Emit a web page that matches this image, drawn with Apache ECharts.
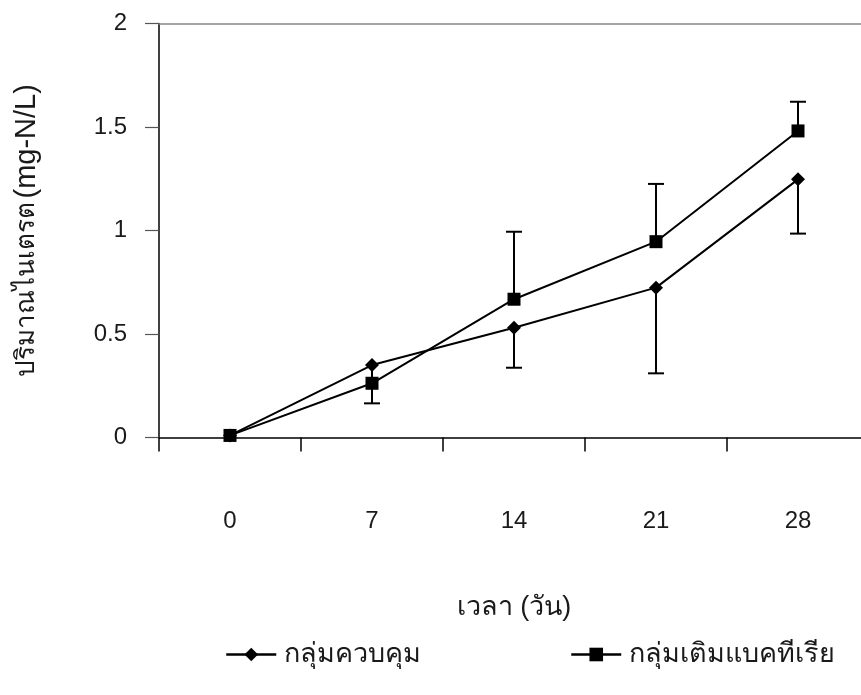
<!DOCTYPE html>
<html>
<head>
<meta charset="utf-8">
<script src="https://cdn.jsdelivr.net/npm/echarts@6/dist/echarts.min.js"></script>
<style>
  html, body { margin: 0; padding: 0; background: #fff; }
  #chart { width: 861px; height: 695px; }
</style>
</head>
<body>
<div id="chart"></div>
<script>
// Sampling days
const days = ['0', '7', '14', '21', '28'];
// Nitrate concentration (mg-N/L)
const controlGroup = [0.01, 0.35, 0.53, 0.724, 1.247];
const bacteriaGroup = [0.01, 0.262, 0.668, 0.946, 1.481];
// Error bar ends: control drawn downward, bacteria drawn upward
const controlLow = [null, 0.165, 0.337, 0.31, 0.985];
const bacteriaHigh = [null, null, 0.994, 1.225, 1.622];
const yTicks = [0, 0.5, 1, 1.5, 2];

const seriesNames = ['กลุ่มควบคุม', 'กลุ่มเติมแบคทีเรีย'];
const FONT = '"Liberation Sans", Arial, sans-serif';
const TEXT = '#1a1a1a';

function errorData(values, ends) {
  const out = [];
  values.forEach((v, i) => {
    if (ends[i] != null) out.push([i, v, ends[i]]);
  });
  return out;
}

function renderErrorBar(params, api) {
  const x = api.value(0);
  const a = api.coord([x, api.value(1)]);
  const b = api.coord([x, api.value(2)]);
  const half = 8;
  const style = { stroke: '#000', lineWidth: 2 };
  return {
    type: 'group',
    children: [
      { type: 'line', shape: { x1: a[0], y1: a[1], x2: b[0], y2: b[1] }, style },
      { type: 'line', shape: { x1: b[0] - half, y1: b[1], x2: b[0] + half, y2: b[1] }, style }
    ]
  };
}

function legendAt(left, name) {
  return {
    left: left,
    top: 641,
    padding: 0,
    itemWidth: 50,
    itemHeight: 17,
    lineStyle: { width: 2.5 },
    textStyle: { color: TEXT, fontSize: 27, fontFamily: FONT, padding: [0, 0, 0, 3] },
    data: [name]
  };
}

const chart = echarts.init(document.getElementById('chart'), null, { renderer: 'canvas' });
chart.setOption({
  backgroundColor: '#fff',
  animation: false,
  textStyle: { fontFamily: FONT },
  // plot area runs slightly past the right edge of the canvas
  grid: { left: 159, top: 23.5, right: -8, bottom: 257.5, outerBoundsMode: 'none', containLabel: false },
  xAxis: [
    {
      type: 'category',
      data: days,
      boundaryGap: true,
      position: 'bottom',
      axisLine: { lineStyle: { color: '#000', width: 1.5 } },
      axisTick: { show: true, inside: false, length: 14, lineStyle: { color: '#000', width: 1.5 } },
      axisLabel: { color: TEXT, fontSize: 24, margin: 72, fontFamily: FONT },
      name: 'เวลา (วัน)',
      nameLocation: 'middle',
      nameGap: 157,
      nameTextStyle: { color: TEXT, fontSize: 27, fontFamily: FONT }
    },
    {
      type: 'category',
      data: days,
      position: 'top',
      axisLine: { lineStyle: { color: '#888', width: 1.5 } },
      axisTick: { show: false },
      axisLabel: { show: false }
    }
  ],
  yAxis: {
    type: 'value',
    min: yTicks[0],
    max: yTicks[yTicks.length - 1],
    interval: 0.5,
    axisLine: { show: true, lineStyle: { color: '#000', width: 1.5 } },
    axisTick: { show: true, inside: false, length: 14, lineStyle: { color: '#555', width: 1.2 } },
    axisLabel: { color: TEXT, fontSize: 24, margin: 32, fontFamily: FONT },
    splitLine: { show: false },
    name: '{th|ปริมาณไนเตรต} {en|(mg-N/L)}',
    nameLocation: 'middle',
    nameGap: 118,
    nameRotate: 90,
    nameTextStyle: {
      color: TEXT,
      fontFamily: FONT,
      rich: {
        th: { fontSize: 26, color: TEXT, fontFamily: FONT },
        en: { fontSize: 29, color: TEXT, fontFamily: FONT }
      }
    }
  },
  legend: [legendAt(225, seriesNames[0]), legendAt(570, seriesNames[1])],
  series: [
    {
      name: seriesNames[0],
      type: 'line',
      data: controlGroup,
      symbol: 'diamond',
      symbolSize: 14,
      lineStyle: { color: '#000', width: 2 },
      itemStyle: { color: '#000' },
      z: 3
    },
    {
      name: seriesNames[1],
      type: 'line',
      data: bacteriaGroup,
      symbol: 'rect',
      symbolSize: 13,
      lineStyle: { color: '#000', width: 2 },
      itemStyle: { color: '#000' },
      z: 3
    },
    {
      type: 'custom',
      renderItem: renderErrorBar,
      data: errorData(controlGroup, controlLow),
      encode: { x: 0, y: [1, 2] },
      z: 2,
      silent: true
    },
    {
      type: 'custom',
      renderItem: renderErrorBar,
      data: errorData(bacteriaGroup, bacteriaHigh),
      encode: { x: 0, y: [1, 2] },
      z: 2,
      silent: true
    }
  ]
});
</script>
</body>
</html>
